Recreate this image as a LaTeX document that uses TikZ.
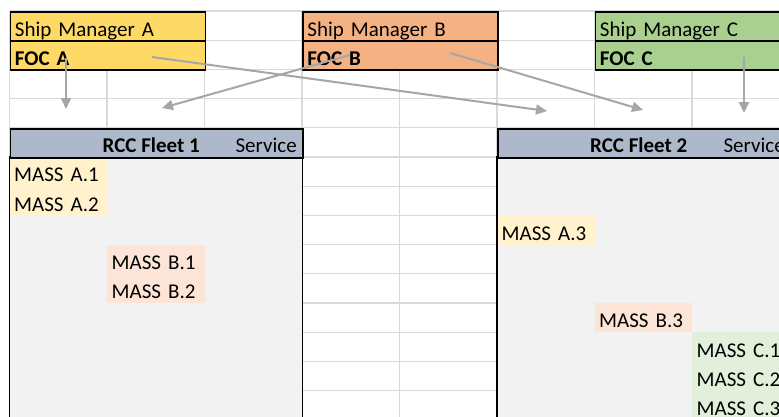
\documentclass[tikz,border=0pt]{standalone}
\usepackage{fontspec}
\setmainfont{Carlito}
\usetikzlibrary{arrows.meta}
\definecolor{gridc}{HTML}{D9D9D9}
\definecolor{arrowc}{HTML}{A6A6A6}
\definecolor{smAc}{HTML}{FFD966}
\definecolor{smBc}{HTML}{F4B183}
\definecolor{smCc}{HTML}{A9D08E}
\definecolor{hdrc}{HTML}{ADB9CA}
\definecolor{bodyc}{HTML}{F2F2F2}
\definecolor{massAc}{HTML}{FFF2CC}
\definecolor{massBc}{HTML}{FCE4D6}
\definecolor{massCc}{HTML}{E2EFDA}
\begin{document}
\begin{tikzpicture}[x=1pt,y=-1pt,
  gridline/.style={draw=gridc, line width=1.2pt},
  cell/.style={rectangle, anchor=north west, inner xsep=4.5pt, inner ysep=0pt,
    text height=24.7pt, text depth=4.5pt, text width=88.5pt, align=left,
    font=\fontsize{21}{25}\selectfont},
  htext/.style={anchor=base east, inner sep=0pt, font=\fontsize{21}{25}\selectfont},
  smbox/.style={cell, draw=black, line width=1.8pt},
  hdrbox/.style={rectangle, anchor=north west, inner sep=0pt, minimum height=29.2pt,
    fill=hdrc, draw=black, line width=1.8pt},
  bodybox/.style={rectangle, anchor=north west, inner sep=0pt, fill=bodyc},
  border/.style={draw=black, line width=1.8pt},
  conn/.style={draw=arrowc, line width=2pt, -{Triangle[length=11pt,width=10pt]}}
]
\useasboundingbox (0,0) rectangle (779,416);
\clip (0,0) rectangle (779,416);
\fill[white] (0,0) rectangle (779,416);
% spreadsheet grid
\foreach \i in {0,...,8} \draw[gridline] ({9.5+97.5*\i},11) -- ({9.5+97.5*\i},430);
\foreach \j in {0,...,14} \draw[gridline] (9.5,{11+29.2*\j}) -- (800,{11+29.2*\j});
% ship managers
\node[smbox, fill=smAc, text width=186pt] (smA) at (9.5,11) {Ship Manager A};
\node[smbox, fill=smAc, text width=186pt] (focA) at (9.5,40.2) {\bfseries FOC A};
\node[smbox, fill=smBc, text width=186pt] (smB) at (302,11) {Ship Manager B};
\node[smbox, fill=smBc, text width=186pt] (focB) at (302,40.2) {\bfseries FOC B};
\node[smbox, fill=smCc, text width=210pt] (smC) at (594.5,11) {Ship Manager C};
\node[smbox, fill=smCc, text width=210pt] (focC) at (594.5,40.2) {\bfseries FOC C};
% fleet 1
\node[bodybox, minimum width=292.5pt, minimum height=290pt] (f1body) at (9.5,157) {};
\node[cell, fill=massAc] (mA1) at (9.5,157) {MASS A.1};
\node[cell, fill=massAc] (mA2) at (9.5,186.2) {MASS A.2};
\node[cell, fill=massBc] (mB1) at (107,244.6) {MASS B.1};
\node[cell, fill=massBc] (mB2) at (107,273.8) {MASS B.2};
\draw[border] (f1body.north west) rectangle (f1body.south east);
\node[hdrbox, minimum width=292.5pt] (f1hdr) at (9.5,127.8) {};
\node[htext] (f1name) at (200,152.5) {\bfseries RCC Fleet 1};
\node[htext] (f1serv) at (297,152.5) {Service};
% fleet 2
\node[bodybox, minimum width=310pt, minimum height=290pt] (f2body) at (497,157) {};
\node[cell, fill=massAc] (mA3) at (497,215.4) {MASS A.3};
\node[cell, fill=massBc] (mB3) at (594.5,303) {MASS B.3};
\node[cell, fill=massCc] (mC1) at (692,332.2) {MASS C.1};
\node[cell, fill=massCc] (mC2) at (692,361.4) {MASS C.2};
\node[cell, fill=massCc] (mC3) at (692,390.6) {MASS C.3};
\draw[border] (f2body.north west) rectangle (f2body.south east);
\node[hdrbox, minimum width=310pt] (f2hdr) at (497,127.8) {};
\node[htext] (f2name) at (687.5,152.5) {\bfseries RCC Fleet 2};
\node[htext] (f2serv) at (785,152.5) {Service};
% arrow ends
\coordinate (sA1) at (66,58);   \coordinate (eA1) at (66,109);
\coordinate (sB1) at (350,55);  \coordinate (eB1) at (162,108);
\coordinate (sA2) at (152,57);  \coordinate (eA2) at (547,111);
\coordinate (sB2) at (450,53);  \coordinate (eB2) at (643,110);
\coordinate (sC2) at (744,57);  \coordinate (eC2) at (744,113);
\draw[conn] (sA1) -- (eA1);
\draw[conn] (sB1) -- (eB1);
\draw[conn] (sA2) -- (eA2);
\draw[conn] (sB2) -- (eB2);
\draw[conn] (sC2) -- (eC2);
\end{tikzpicture}
\end{document}
